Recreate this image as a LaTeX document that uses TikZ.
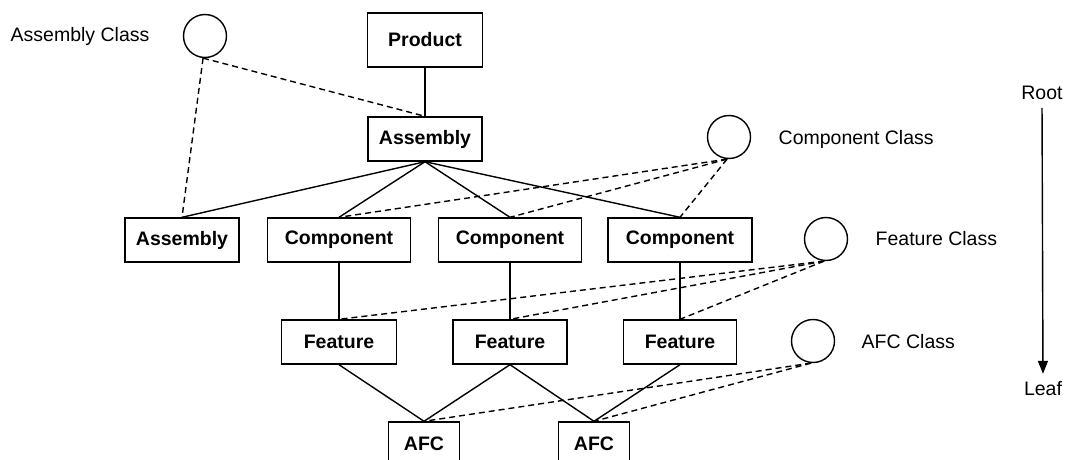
\documentclass[tikz,border=0pt]{standalone}
\usepackage{fontspec}
\setmainfont{Liberation Sans}
\usetikzlibrary{arrows.meta}

\begin{document}
\begin{tikzpicture}[x=1pt,y=-1pt,line width=1.4pt,
	every node/.style={font=\fontsize{19.5}{23}\selectfont},
	box/.style={draw,font=\fontsize{19.5}{23}\selectfont\bfseries,inner sep=0pt,minimum height=44pt},
	cls/.style={draw,circle,minimum size=43pt,inner sep=0pt},
	link/.style={dash pattern=on 6pt off 4pt}]
\clip (0,0) rectangle (1071,460);

\node[box,minimum width=115pt,minimum height=54pt] (prod) at (425,40) {Product};
\foreach \x/\y/\w/\l/\t in {425/139/114/asm0/Assembly,182/240/114/asm1/Assembly,
	339/240/143/comp1/Component,510/240/143/comp2/Component,680/240/144/comp3/Component,
	339/342/115/feat1/Feature,510/342/114/feat2/Feature,680/342/113/feat3/Feature,
	424/444/71/afc1/AFC,594/444/71/afc2/AFC}
	\node[box,minimum width=\w pt] (\l) at (\x,\y) {\t};

\foreach \x/\y/\l in {205/36/asmc,729/137/compc,826/239/featc,813/341/afcc}
	\node[cls] (\l) at (\x,\y) {};
\foreach \x/\y/\l/\t in {10/36/asmcl/Assembly Class,778/139/compcl/Component Class,
	875/239/featcl/Feature Class,861/342/afccl/AFC Class}
	\node[anchor=west,inner sep=0pt] (\l) at (\x,\y) {\t};

\foreach \a/\b in {prod/asm0,asm0/asm1,asm0/comp1,asm0/comp2,asm0/comp3,comp1/feat1,comp2/feat2,
	comp3/feat3,feat1/afc1,feat2/afc1,feat2/afc2,feat3/afc2}
	\draw(\a.south)--(\b.north);
\foreach \a/\b in {asmc/asm0,asmc/asm1,compc/comp1,compc/comp2,compc/comp3,
	featc/feat1,featc/feat2,featc/feat3,afcc/afc1,afcc/afc2}
	\draw[link](\a.265)--(\b.north);

\node (root) at (1042,93) {Root};
\node (leaf) at (1043,389) {Leaf};
\draw[-{Triangle[width=10pt,length=13pt]},shorten <=4pt,shorten >=4pt](root.south)--(leaf.north);
\end{tikzpicture}
\end{document}
